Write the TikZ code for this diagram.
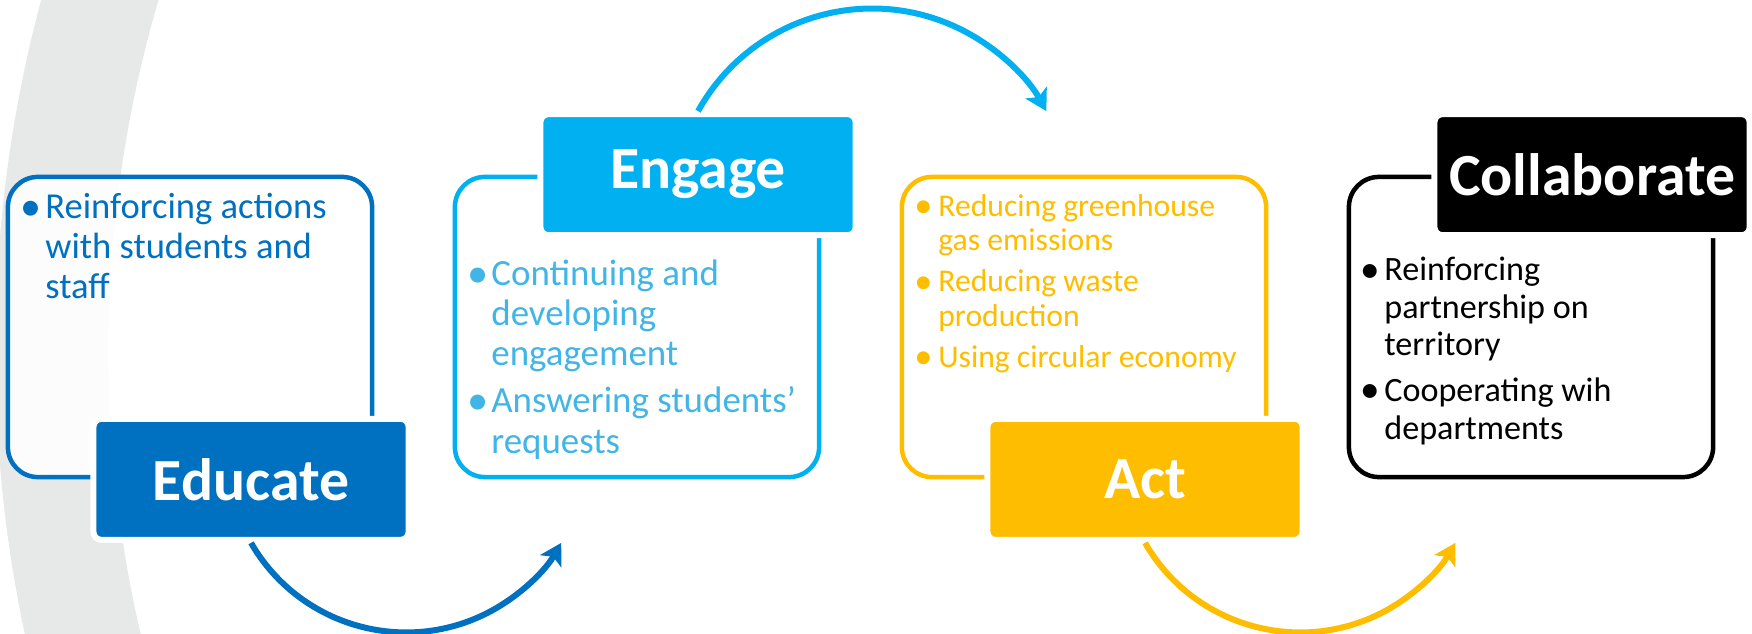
\documentclass[tikz,border=0pt]{standalone}
\usepackage{fontspec}
\setmainfont{Carlito}
\usetikzlibrary{arrows.meta, positioning}
\definecolor{eduBlue}{RGB}{0,112,192}
\definecolor{engCyan}{RGB}{0,176,240}
\definecolor{engText}{RGB}{65,182,230}
\definecolor{actGold}{RGB}{255,189,0}
\definecolor{bandGray}{RGB}{231,232,232}
\newcommand{\bigbullet}{\raisebox{-0.04em}{\scalebox{1.15}{\textbullet}}}
\tikzset{
    stagebox/.style={
        rectangle,
        draw=#1,
        line width=0.045cm,
        rounded corners=0.3cm,
        fill=white,
        fill opacity=0.9,
        minimum width=3.64cm,
        minimum height=3.0cm
    },
    titlebox/.style={
        rectangle,
        fill=#1,
        draw=white,
        line width=0.06cm,
        rounded corners=0.08cm,
        minimum width=3.15cm,
        minimum height=1.21cm,
        text=white,
        font=\fontsize{17}{20}\selectfont\bfseries
    },
    bodytext/.style={anchor=base west, inner sep=0pt, align=left},
    cyclearrow/.style={draw=#1, line width=0.06cm, -{Stealth[length=2.1mm, width=2.4mm, inset=0.5mm]}}
}

\begin{document}
\begin{tikzpicture}[x=0.01cm, y=0.01cm]
    \useasboundingbox (0,0) rectangle (1752,633);

    % background band
    \begin{scope}
        \clip (0,0) rectangle (1752,633);
        \fill[bandGray, even odd rule] (1351,282) circle[radius=13.55cm] (1351,282) circle[radius=12.42cm];
    \end{scope}

    \node[stagebox=eduBlue] (educate) at (190,306) {};
    \node[stagebox=engCyan] (engage) at (637,306) {};
    \node[stagebox=actGold] (act) at (1084,306) {};
    \node[stagebox=black] (collab) at (1531,306) {};

    \node[titlebox=eduBlue] (educateTitle) at ([xshift=0.61cm]educate.south) {Educate};
    \node[titlebox=engCyan] (engageTitle) at ([xshift=0.61cm]engage.north) {Engage};
    \node[titlebox=actGold] (actTitle) at ([xshift=0.61cm]act.south) {Act};
    \node[titlebox=black] (collabTitle) at ([xshift=0.61cm]collab.north) {Collaborate};

    \node[bodytext, text=eduBlue, font=\fontsize{10.4}{11.4}\selectfont] (educateText) at ([shift={(14,-44)}]educate.north west)
        {\begin{tabular}[t]{@{}p{0.25cm}@{}l@{}}\bigbullet & Reinforcing actions\\ & with students and\\ & staff\end{tabular}};
    \node[bodytext, text=engText, font=\fontsize{10.5}{11.4}\selectfont] (engageText) at ([shift={(14,-111)}]engage.north west)
        {\begin{tabular}[t]{@{}p{0.24cm}@{}l@{}}\bigbullet & Continuing and\\ & developing\\ & engagement\\[2pt] \bigbullet & Answering students’\\ & requests\end{tabular}};
    \node[bodytext, text=actGold, font=\fontsize{9}{9.7}\selectfont] (actText) at ([shift={(14,-42)}]act.north west)
        {\begin{tabular}[t]{@{}p{0.24cm}@{}l@{}}\bigbullet & Reducing greenhouse\\ & gas emissions\\[2pt] \bigbullet & Reducing waste\\ & production\\[2pt] \bigbullet & Using circular economy\end{tabular}};
    \node[bodytext, text=black, font=\fontsize{9.7}{10.7}\selectfont] (collabText) at ([shift={(13,-106)}]collab.north west)
        {\begin{tabular}[t]{@{}p{0.24cm}@{}l@{}}\bigbullet & Reinforcing\\ & partnership on\\ & territory\\[2.3pt] \bigbullet & Cooperating wih\\ & departments\end{tabular}};

    % arrows between stages
    \draw[cyclearrow=eduBlue] (educateTitle.south) arc[start angle=210, end angle=330, radius=1.79cm];
    \draw[cyclearrow=engCyan] (engageTitle.north) arc[start angle=151, end angle=29, radius=1.99cm];
    \draw[cyclearrow=actGold] (actTitle.south) arc[start angle=210, end angle=330, radius=1.79cm];
\end{tikzpicture}
\end{document}
